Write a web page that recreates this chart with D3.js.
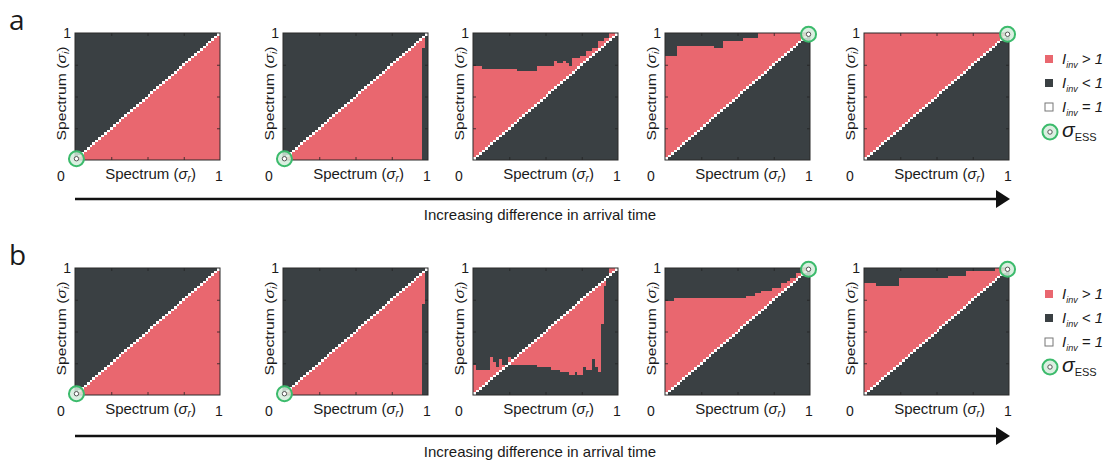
<!DOCTYPE html>
<html>
<head>
<meta charset="utf-8">
<script src="https://cdn.jsdelivr.net/npm/d3@7"></script>
<style>
  body { margin: 0; background: #fff; }
  text { font-family: "Liberation Sans", Arial, sans-serif; fill: #1a1a1a; }
</style>
</head>
<body>
<svg id="chart" width="1112" height="471"></svg>
<script>
const N = 50; // grid resolution of each PIP

const rowNames = ['a', 'b'];

// step boundaries, [sigma_r from, sigma_i]
// upper: red above the diagonal up to this value
// lower: red below the diagonal down to this value
const upperA = [
  [[0, 0]],
  [[0, 0]],
  [[0, 0.74], [0.07, 0.72], [0.31, 0.70], [0.45, 0.73], [0.56, 0.78], [0.59, 0.76], [0.62, 0.78], [0.65, 0.75],
   [0.67, 0.73], [0.69, 0.80], [0.75, 0.82], [0.78, 0.86], [0.82, 0.88], [0.86, 0.94], [0.90, 0.96], [0.94, 1]],
  [[0, 0.82], [0.08, 0.90], [0.34, 0.88], [0.40, 0.94], [0.54, 0.96], [0.64, 1]],
  [[0, 1]]
];
const lowerA = [
  [[0, 0]],
  [[0, 0], [0.96, 0.88], [0.98, 1]],
  [[0, 1]],
  [[0, 1]],
  [[0, 1]]
];
const upperB = [
  [[0, 0]],
  [[0, 0]],
  [[0, 0.24], [0.03, 0.20], [0.12, 0.30], [0.14, 0.25], [0.17, 0.22], [0.19, 0.27], [0.21, 0.24], [0.24, 0.30],
   [0.26, 0.28], [0.28, 0], [0.94, 1]],
  [[0, 0.74], [0.07, 0.76], [0.57, 0.78], [0.63, 0.80], [0.67, 0.82], [0.75, 0.84], [0.80, 0.87], [0.84, 0.90],
   [0.87, 0.92], [0.90, 0.95], [0.95, 1]],
  [[0, 0.88], [0.08, 0.86], [0.24, 0.91], [0.46, 0.92], [0.59, 0.94], [0.71, 0.97], [0.83, 0.98], [0.90, 1]]
];
const lowerB = [
  [[0, 0]],
  [[0, 0], [0.96, 0.72], [0.98, 1]],
  [[0, 1], [0.26, 0.25], [0.35, 0.24], [0.45, 0.22], [0.55, 0.20], [0.60, 0.18], [0.66, 0.16], [0.70, 0.19],
   [0.73, 0.17], [0.76, 0.22], [0.79, 0.20], [0.82, 0.28], [0.84, 0.22], [0.86, 0.18], [0.89, 0.56], [0.91, 0.86], [0.93, 1]],
  [[0, 1]],
  [[0, 1]]
];
// singular strategy per panel (null = none)
const essA = [[0.01, 0.01], [0.01, 0.01], null, [0.99, 0.99], [0.99, 0.99]];
const essB = [[0.01, 0.01], [0.01, 0.01], null, [0.99, 0.99], [0.99, 0.99]];

const xTickLabels = ['0', '1'];
const legendLabels = ['> 1', '< 1', '= 1'];
const arrowLabel = 'Increasing difference in arrival time';

const red = '#e9676f', dark = '#3a4043', green = '#3cbb6c';

const svg = d3.select('#chart');
const panelLeft = [75, 283, 473, 665, 864];
const panelW = 145, panelH = 127;
const rowTop = [33, 268];
const arrowY = [199, 436];

function stepAt(steps, v) {
  let out = steps[0][1];
  steps.forEach(s => { if (v >= s[0] - 1e-9) out = s[1]; });
  return out;
}

function drawPanel(g, upper, lower, ess) {
  const x = d3.scaleLinear().domain([0, 1]).range([0, panelW]);
  const y = d3.scaleLinear().domain([0, 1]).range([panelH, 0]);

  const cells = [];
  for (let i = 0; i < N; i++) {
    for (let j = 0; j < N; j++) {
      const xc = (i + 0.5) / N, yc = (j + 0.5) / N;
      let c;
      if (i === j) c = '#fff';
      else if (j < i) c = yc >= stepAt(lower, xc) ? red : dark;
      else c = yc <= stepAt(upper, xc) ? red : dark;
      cells.push({ i, j, c });
    }
  }

  g.append('g')
    .attr('shape-rendering', 'crispEdges')
    .selectAll('rect')
    .data(cells)
    .join('rect')
    .attr('x', d => Math.round(x(d.i / N)))
    .attr('width', d => Math.round(x((d.i + 1) / N)) - Math.round(x(d.i / N)))
    .attr('y', d => Math.round(y((d.j + 1) / N)))
    .attr('height', d => Math.round(y(d.j / N)) - Math.round(y((d.j + 1) / N)))
    .attr('fill', d => d.c);

  // inward ticks on all sides
  const tv = [0.25, 0.5, 0.75];
  const axes = [
    [d3.axisBottom(x), `translate(0,${panelH})`],
    [d3.axisTop(x), 'translate(0,0)'],
    [d3.axisLeft(y), 'translate(0,0)'],
    [d3.axisRight(y), `translate(${panelW},0)`]
  ];
  axes.forEach(([ax, tr]) => {
    const a = g.append('g').attr('transform', tr)
      .call(ax.tickValues(tv).tickSize(-3).tickFormat(''));
    a.select('.domain').remove();
    a.selectAll('line').attr('stroke', '#222').attr('stroke-width', 0.8);
  });

  g.append('rect')
    .attr('width', panelW).attr('height', panelH)
    .attr('fill', 'none').attr('stroke', '#2a2a2a').attr('stroke-width', 1);

  // tick labels
  g.append('text').attr('x', x(0) - 14).attr('y', panelH + 21)
    .attr('text-anchor', 'middle').style('font-size', '14px').text(xTickLabels[0]);
  g.append('text').attr('x', x(1) - 1).attr('y', panelH + 21)
    .attr('text-anchor', 'middle').style('font-size', '14px').text(xTickLabels[1]);
  g.append('text').attr('x', -4).attr('y', y(1) + 5)
    .attr('text-anchor', 'end').style('font-size', '14px').text(xTickLabels[1]);

  // axis labels
  const xl = g.append('text').attr('x', panelW / 2 + 3).attr('y', panelH + 19)
    .attr('text-anchor', 'middle').style('font-size', '15px');
  xl.append('tspan').text('Spectrum (');
  xl.append('tspan').style('font-style', 'italic').text('σ');
  xl.append('tspan').style('font-style', 'italic').style('font-size', '10px').attr('dy', 3).text('r');
  xl.append('tspan').attr('dy', -3).text(')');

  const yl = g.append('text')
    .attr('transform', `translate(-9,${panelH / 2 - 3}) rotate(-90) scale(1.05,0.86)`)
    .attr('text-anchor', 'middle').style('font-size', '15px');
  yl.append('tspan').text('Spectrum (');
  yl.append('tspan').style('font-style', 'italic').text('σ');
  yl.append('tspan').style('font-style', 'italic').style('font-size', '10px').attr('dy', 3).text('i');
  yl.append('tspan').attr('dy', -3).text(')');

  if (ess) drawEss(g, x(ess[0]), y(ess[1]));
}

function drawEss(g, cx, cy) {
  g.append('circle').attr('cx', cx).attr('cy', cy).attr('r', 7.5)
    .attr('fill', '#d5ecdc').attr('fill-opacity', 0.85)
    .attr('stroke', green).attr('stroke-width', 2);
  g.append('circle').attr('cx', cx).attr('cy', cy).attr('r', 2.2)
    .attr('fill', '#fff').attr('stroke', '#555').attr('stroke-width', 1);
}

const uppers = [upperA, upperB], lowers = [lowerA, lowerB], esses = [essA, essB];

rowNames.forEach((name, r) => {
  const top = rowTop[r];

  svg.append('text').attr('x', 9).attr('y', top - 3)
    .style('font-family', '"Open Sans", sans-serif').style('font-size', '28px').text(name);

  panelLeft.forEach((left, p) => {
    const g = svg.append('g').attr('transform', `translate(${left},${top})`);
    drawPanel(g, uppers[r][p], lowers[r][p], esses[r][p]);
  });

  // arrow
  const ay = arrowY[r];
  svg.append('line').attr('x1', 75).attr('x2', 998).attr('y1', ay).attr('y2', ay)
    .attr('stroke', '#111').attr('stroke-width', 2.5);
  svg.append('path').attr('d', `M996,${ay - 9}L1010,${ay}L996,${ay + 9}Z`).attr('fill', '#111');
  svg.append('text').attr('x', 540).attr('y', ay + 21).attr('text-anchor', 'middle')
    .style('font-size', '15px').text(arrowLabel);

  // legend
  const lg = svg.append('g').attr('transform', `translate(1045,${top + 26})`);
  const fills = [red, dark, '#fff'];
  legendLabels.forEach((lab, k) => {
    const row = lg.append('g').attr('transform', `translate(0,${k * 24})`);
    row.append('rect').attr('x', 0).attr('y', -4).attr('width', 8).attr('height', 8)
      .attr('fill', fills[k]).attr('stroke', k === 2 ? '#777' : 'none');
    const t = row.append('text').attr('x', 17).attr('y', 5).style('font-size', '15px').style('font-style', 'italic');
    t.append('tspan').text('I');
    t.append('tspan').style('font-size', '9px').attr('dy', 4).text('inv');
    t.append('tspan').attr('dy', -4).text(' ' + lab);
  });
  const er = lg.append('g').attr('transform', 'translate(0,73)');
  drawEss(er, 5, 0);
  const et = er.append('text').attr('x', 17).attr('y', 5);
  et.append('tspan').style('font-size', '21px').style('font-style', 'italic').text('σ');
  et.append('tspan').style('font-size', '11px').attr('dy', 4).text('ESS');
});
</script>
</body>
</html>
